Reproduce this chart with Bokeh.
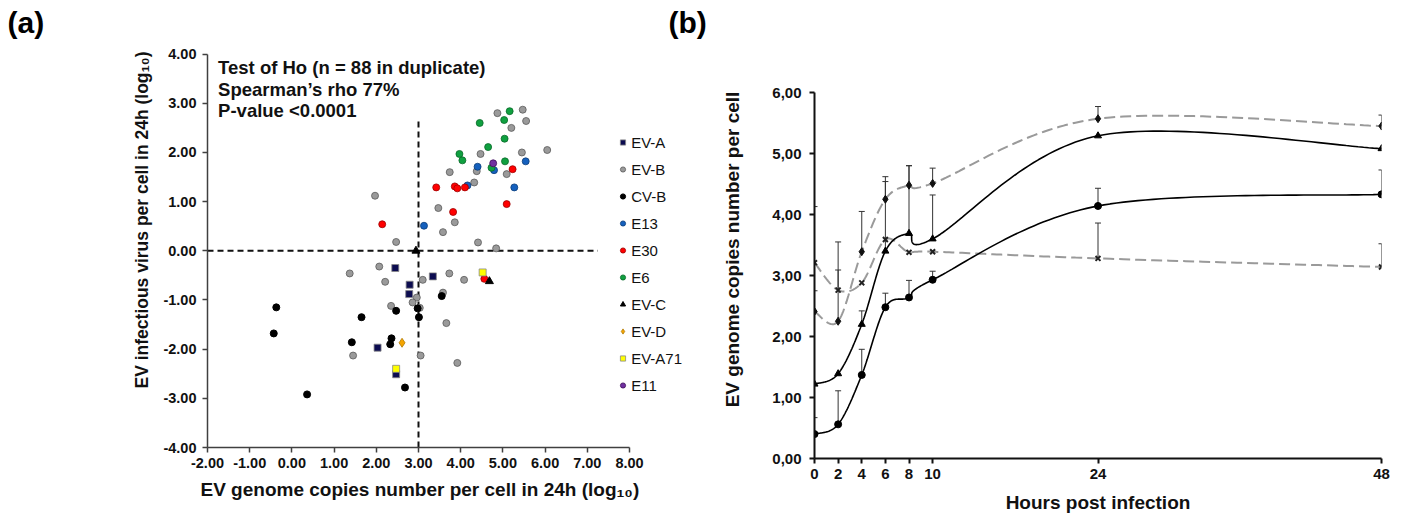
from bokeh.plotting import figure
from bokeh.models import (Range1d, FixedTicker, Label, Legend, LegendItem, Whisker, Title,
                          ColumnDataSource, TeeHead, PrintfTickFormatter)
from bokeh.layouts import row
from bokeh.embed import file_html
from bokeh.resources import INLINE
import numpy as np

FONT = "Liberation Sans"

# ---------------- Panel (a) data ----------------
ev_a_x = [2.45, 3.34, 2.79, 2.78, 2.03, 2.47]
ev_a_y = [-0.35, -0.52, -0.69, -0.88, -1.97, -2.51]

ev_b_x = [1.97, 2.47, 3.47, 3.58, 3.74, 3.86, 4.32, 4.38, 4.47, 4.41, 4.84, 4.87, 5.09, 5.20,
          5.47, 5.55, 5.45, 6.05, 2.07, 1.37, 2.21, 3.10, 3.73, 4.08, 3.58, 2.96, 2.86, 2.35,
          3.03, 3.66, 1.45, 3.05, 3.92]
ev_b_y = [1.12, 0.18, 0.87, 0.38, 1.60, 0.58, 1.39, 1.62, 1.97, 0.17, 0.05, 2.80, 1.56, 2.50,
          2.87, 2.64, 2.00, 2.05, -0.32, -0.46, -0.63, -0.59, -0.46, -0.59, -0.85, -0.95, -1.05,
          -1.12, -1.16, -1.47, -2.13, -2.13, -2.28]

cv_b_x = [-0.37, -0.43, 0.36, 1.65, 1.42, 2.47, 2.36, 2.33, 2.68, 2.98, 3.01, 3.55]
cv_b_y = [-1.15, -1.68, -2.92, -1.35, -1.86, -1.22, -1.78, -1.90, -2.78, -1.17, -1.35, -0.92]

e13_x = [3.13, 4.16, 4.40, 4.79, 5.27, 5.54]
e13_y = [0.51, 1.33, 1.71, 1.64, 1.29, 1.82]

e30_x = [2.14, 3.42, 3.82, 3.86, 3.92, 4.10, 5.09, 5.23, 4.56]
e30_y = [0.54, 1.29, 0.79, 1.31, 1.27, 1.29, 0.95, 1.66, -0.57]

e6_x = [3.97, 4.04, 4.45, 4.65, 4.73, 5.03, 5.16, 5.04, 5.05]
e6_y = [1.97, 1.84, 2.60, 2.11, 1.69, 2.66, 2.84, 2.28, 1.82]

ev_c_x = [4.68, 2.94]
ev_c_y = [-0.62, 0.00]

ev_d_x = [2.61]
ev_d_y = [-1.87]

ev_a71_x = [4.52, 2.47]
ev_a71_y = [-0.44, -2.40]

e11_x = [4.77]
e11_y = [1.78]

a_x_ticks = [-2, -1, 0, 1, 2, 3, 4, 5, 6, 7, 8]
a_y_ticks = [-4, -3, -2, -1, 0, 1, 2, 3, 4]

threshold_x = 3.0
threshold_y = 0.0
vline_top = 2.7
hline_right = 7.25

stats_lines = ["Test of Ho (n = 88 in duplicate)", "Spearman\u2019s rho 77%", "P-value <0.0001"]
a_x_title = "EV genome copies number per cell in 24h (log\u2081\u2080)"
a_y_title = "EV infectious virus per cell in 24h (log\u2081\u2080)"

# ---------------- Panel (b) data ----------------
hours = [0, 2, 4, 6, 8, 10, 24, 48]
b_x_ticks = [0, 2, 4, 6, 8, 10, 24, 48]
b_y_ticks = [0, 1, 2, 3, 4, 5, 6]
b_y_labels = ["0,00", "1,00", "2,00", "3,00", "4,00", "5,00", "6,00"]

grey_dot_y = [2.41, 2.25, 3.39, 4.25, 4.48, 4.51, 5.57, 5.45]
grey_dot_err = [0.34, 1.30, 0.66, 0.37, 0.32, 0.25, 0.20, 0.18]

grey_x_y = [3.21, 2.76, 2.88, 3.59, 3.38, 3.39, 3.28, 3.14]
grey_x_err = [0.92, 0.33, 0.0, 0.0, 0.0, 0.0, 0.58, 0.38]

black_tri_y = [1.22, 1.39, 2.20, 3.40, 3.69, 3.60, 5.29, 5.08]
black_tri_err = [0.0, 0.0, 0.22, 1.14, 1.11, 0.72, 0.0, 0.0]

black_circ_y = [0.40, 0.56, 1.37, 2.48, 2.64, 2.93, 4.14, 4.33]
black_circ_err = [0.27, 0.55, 0.42, 0.23, 0.28, 0.14, 0.29, 0.40]


def style_axes(p, tick_size, title_size, line_color, line_width):
    for ax in (p.xaxis[0], p.yaxis[0]):
        ax.major_label_text_font = FONT
        ax.major_label_text_font_style = "bold"
        ax.major_label_text_font_size = tick_size
        ax.major_label_text_color = "#111111"
        ax.axis_label_text_font = FONT
        ax.axis_label_text_font_style = "bold"
        ax.axis_label_text_font_size = title_size
        ax.axis_label_text_color = "#111111"
        ax.minor_tick_line_color = None
        ax.major_tick_in = 0
        ax.major_tick_out = 5
        ax.axis_line_color = line_color
        ax.major_tick_line_color = line_color
        ax.axis_line_width = line_width
        ax.major_tick_line_width = line_width
    p.xgrid.visible = False
    p.ygrid.visible = False
    p.outline_line_color = None


TOP = 40
BOTTOM = 62

# ---------------- Figure (a) ----------------
A_W, A_H = 690, 509
A_LEFT = 207
A_XPPU, A_YPPU = 42.2, 49.17
a_frame_h = A_H - TOP - BOTTOM
a_x_end = a_x_ticks[0] + (A_W - A_LEFT) / A_XPPU
a_y_end = a_y_ticks[0] + a_frame_h / A_YPPU

pa = figure(width=A_W, height=A_H, x_range=Range1d(a_x_ticks[0], a_x_end),
            y_range=Range1d(a_y_ticks[0], a_y_end),
            output_backend="svg", toolbar_location=None,
            min_border_left=A_LEFT, min_border_right=0, min_border_top=TOP,
            min_border_bottom=BOTTOM)
style_axes(pa, "14.5px", "19px", "#404040", 1.5)
pa.xaxis.ticker = FixedTicker(ticks=a_x_ticks)
pa.yaxis.ticker = FixedTicker(ticks=a_y_ticks)
pa.xaxis.bounds = (a_x_ticks[0], a_x_ticks[-1])
pa.yaxis.bounds = (a_y_ticks[0], a_y_ticks[-1])
pa.xaxis.formatter = PrintfTickFormatter(format="%.2f")
pa.yaxis.formatter = PrintfTickFormatter(format="%.2f")
pa.xaxis.major_label_standoff = 5
pa.yaxis.major_label_standoff = 6

# axis titles placed along the -2..8 / -4..4 axes (frame extends further for the legend)
pa.add_layout(Title(text=a_x_title, align="left", vertical_align="bottom", offset=-7, standoff=12,
                    text_font=FONT, text_font_style="bold", text_font_size="19px",
                    text_color="#111111"), "below")
pa.add_layout(Title(text=a_y_title, align="left", vertical_align="bottom", offset=59, standoff=18,
                    text_font=FONT, text_font_style="bold", text_font_size="17.5px",
                    text_color="#111111"), "left")

# threshold dashed lines
pa.segment(x0=[threshold_x], y0=[a_y_ticks[0]], x1=[threshold_x], y1=[vline_top],
           line_color="#111111", line_width=2, line_dash="6 4")
pa.segment(x0=[a_x_ticks[0]], y0=[threshold_y], x1=[hline_right], y1=[threshold_y],
           line_color="#111111", line_width=2, line_dash="6 4")

r_evb = pa.scatter(ev_b_x, ev_b_y, marker="circle", size=7, fill_color="#9a9a9a", line_color="#5a5a5a", line_width=0.8)
r_cvb = pa.scatter(cv_b_x, cv_b_y, marker="circle", size=7, fill_color="#000000", line_color="#000000")
r_e13 = pa.scatter(e13_x, e13_y, marker="circle", size=7, fill_color="#1560bd", line_color="#0b3d7a", line_width=0.8)
r_e30 = pa.scatter(e30_x, e30_y, marker="circle", size=7, fill_color="#ff0000", line_color="#9a0000", line_width=0.8)
r_e6 = pa.scatter(e6_x, e6_y, marker="circle", size=7, fill_color="#10a040", line_color="#0a6a2a", line_width=0.8)
r_eva = pa.scatter(ev_a_x, ev_a_y, marker="square", size=7, fill_color="#0c0c50", line_color="#888888", line_width=0.8)
r_evc = pa.scatter(ev_c_x, ev_c_y, marker="triangle", size=8, fill_color="#000000", line_color="#000000")
r_evd = pa.scatter(ev_d_x, ev_d_y, marker="diamond", size=9, fill_color="#f5a500", line_color="#b07800", line_width=0.8)
r_a71 = pa.scatter(ev_a71_x, ev_a71_y, marker="square", size=7, fill_color="#ffff00", line_color="#888888", line_width=0.8)
r_e11 = pa.scatter(e11_x, e11_y, marker="circle", size=7, fill_color="#7030a0", line_color="#40105a", line_width=0.8)

legend = Legend(items=[
    LegendItem(label="EV-A", renderers=[r_eva]),
    LegendItem(label="EV-B", renderers=[r_evb]),
    LegendItem(label="CV-B", renderers=[r_cvb]),
    LegendItem(label="E13", renderers=[r_e13]),
    LegendItem(label="E30", renderers=[r_e30]),
    LegendItem(label="E6", renderers=[r_e6]),
    LegendItem(label="EV-C", renderers=[r_evc]),
    LegendItem(label="EV-D", renderers=[r_evd]),
    LegendItem(label="EV-A71", renderers=[r_a71]),
    LegendItem(label="E11", renderers=[r_e11]),
], location=(409.2, 52))
legend.border_line_color = None
legend.background_fill_alpha = 0
legend.padding = 0
legend.margin = 0
legend.spacing = 7
legend.glyph_width = 13
legend.glyph_height = 20
legend.label_height = 20
legend.label_standoff = 2
legend.label_text_font = FONT
legend.label_text_font_size = "15px"
legend.label_text_color = "#111111"
pa.add_layout(legend)

for i, line in enumerate(stats_lines):
    pa.add_layout(Label(x=10.6, y=380 - 21.7 * i, x_units="screen", y_units="screen", text=line,
                        text_font=FONT, text_font_style="bold", text_font_size="18.5px",
                        text_baseline="middle", text_align="left", text_color="#111111"))

pa.add_layout(Title(text="(a)", align="left", vertical_align="top", offset=-200, standoff=0,
                    text_font=FONT, text_font_style="bold", text_font_size="30px",
                    text_color="#000000"), "above")


# ---------------- Figure (b) ----------------
def excel_smooth(xs, ys, n=40):
    pts = np.column_stack([np.asarray(xs, float), np.asarray(ys, float)])
    m = len(pts)
    out = [pts[0]]
    t = np.linspace(0, 1, n)[1:, None]
    for i in range(m - 1):
        p0 = pts[i - 1] if i > 0 else pts[i]
        p1 = pts[i]
        p2 = pts[i + 1]
        p3 = pts[i + 2] if i + 2 < m else pts[i + 1]
        c1 = p1 + (p2 - p0) / 6.0
        c2 = p2 - (p3 - p1) / 6.0
        seg = ((1 - t) ** 3) * p1 + 3 * ((1 - t) ** 2) * t * c1 + 3 * (1 - t) * (t ** 2) * c2 + (t ** 3) * p2
        out.extend(seg)
    out = np.array(out)
    return out[:, 0], out[:, 1]


B_W, B_H = 735, 520
B_LEFT, B_RIGHT = 146, 22
B_YPPU = 61.0
b_frame_h = B_H - TOP - BOTTOM
b_y_end = b_y_ticks[0] + b_frame_h / B_YPPU

pb = figure(width=B_W, height=B_H, x_range=Range1d(b_x_ticks[0], b_x_ticks[-1]),
            y_range=Range1d(b_y_ticks[0], b_y_end),
            output_backend="svg", toolbar_location=None,
            min_border_left=B_LEFT, min_border_right=B_RIGHT, min_border_top=TOP,
            min_border_bottom=BOTTOM)
pb.margin = (0, 0, 0, -22)
pb.border_fill_color = None
pb.background_fill_color = None
style_axes(pb, "15px", "19px", "#111111", 2)
pb.xaxis.ticker = FixedTicker(ticks=b_x_ticks)
pb.yaxis.ticker = FixedTicker(ticks=b_y_ticks)
pb.yaxis.bounds = (b_y_ticks[0], b_y_ticks[-1])
pb.yaxis.major_label_overrides = {t: lab for t, lab in zip(b_y_ticks, b_y_labels)}
pb.xaxis.axis_label = "Hours post infection"
pb.yaxis.axis_label = "EV genome copies number per cell"
pb.xaxis.major_label_standoff = 5
pb.xaxis.axis_label_standoff = 10
pb.yaxis.major_label_standoff = 8
pb.yaxis.axis_label_standoff = 26

pb.add_layout(Title(text="(b)", align="left", vertical_align="top", offset=-146, standoff=0,
                    text_font=FONT, text_font_style="bold", text_font_size="30px",
                    text_color="#000000"), "above")


def add_whiskers(p, ys, errs):
    xs = [h for h, e in zip(hours, errs) if e > 0]
    lo = [y for y, e in zip(ys, errs) if e > 0]
    up = [y + e for y, e in zip(ys, errs) if e > 0]
    src = ColumnDataSource(dict(x=xs, lower=lo, upper=up))
    p.add_layout(Whisker(source=src, base="x", lower="lower", upper="upper",
                         line_color="#333333", line_width=1,
                         upper_head=TeeHead(size=6, line_color="#333333", line_width=1),
                         lower_head=None))


for ys, errs in [(grey_dot_y, grey_dot_err), (grey_x_y, grey_x_err),
                 (black_tri_y, black_tri_err), (black_circ_y, black_circ_err)]:
    add_whiskers(pb, ys, errs)

sx, sy = excel_smooth(hours, grey_dot_y)
pb.line(sx, sy, line_color="#9a9a9a", line_width=2, line_dash="11 5")
sx, sy = excel_smooth(hours, grey_x_y)
pb.line(sx, sy, line_color="#9a9a9a", line_width=2, line_dash="11 5")
sx, sy = excel_smooth(hours, black_tri_y)
pb.line(sx, sy, line_color="#000000", line_width=1.6)
sx, sy = excel_smooth(hours, black_circ_y)
pb.line(sx, sy, line_color="#000000", line_width=1.6)

pb.scatter(hours, grey_dot_y, marker="diamond", size=8, fill_color="#111111", line_color="#111111")
pb.scatter(hours, grey_x_y, marker="x", size=7, line_color="#222222", line_width=2)
pb.scatter(hours, black_tri_y, marker="triangle", size=7, fill_color="#000000", line_color="#000000")
pb.scatter(hours, black_circ_y, marker="circle", size=7, fill_color="#000000", line_color="#000000")

layout = row(pa, pb)
open("out.html", "w").write(file_html(layout, INLINE))
